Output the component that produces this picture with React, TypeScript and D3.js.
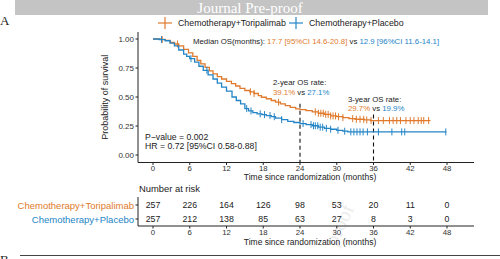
import * as d3 from "d3";

// Kaplan-Meier step knots: [month, survival probability]
const toripalimabSteps: [number, number][] = [
  [0, 1.0], [1.2, 0.996], [2, 0.988], [2.8, 0.97], [3.5, 0.957], [4.2, 0.94],
  [5, 0.91], [5.8, 0.88], [6.5, 0.85], [7.2, 0.815], [7.8, 0.785], [8.5, 0.755],
  [9.2, 0.725], [9.8, 0.7], [10.5, 0.675], [11.2, 0.655], [12, 0.635], [12.8, 0.615],
  [13.5, 0.595], [14.2, 0.575], [15, 0.556], [15.8, 0.545], [16.5, 0.53], [17.2, 0.512],
  [17.7, 0.498], [18.5, 0.485], [19.3, 0.47], [20, 0.455], [20.8, 0.44], [21.6, 0.425],
  [22.4, 0.41], [23.3, 0.398], [24, 0.391], [25, 0.382], [26, 0.372], [27, 0.36],
  [28, 0.35], [29, 0.337], [30, 0.33], [31, 0.322], [32, 0.314], [33, 0.308],
  [34.5, 0.302], [35.5, 0.297], [45.3, 0.297],
];

const placeboSteps: [number, number][] = [
  [0, 1.0], [1, 0.995], [2, 0.985], [2.8, 0.965], [3.5, 0.94], [4.2, 0.905],
  [5, 0.87], [5.5, 0.85], [6, 0.83], [6.8, 0.8], [7.5, 0.765], [8.2, 0.73],
  [9, 0.69], [9.8, 0.655], [10.5, 0.62], [11.2, 0.585], [12, 0.55], [12.9, 0.5],
  [13.6, 0.47], [14.3, 0.44], [15, 0.4], [15.6, 0.38], [16.3, 0.365], [17, 0.355],
  [17.8, 0.348], [18.5, 0.34], [19.3, 0.33], [20, 0.318], [21, 0.305], [22, 0.29],
  [23, 0.28], [24, 0.271], [25, 0.262], [26, 0.252], [27, 0.24], [28, 0.23],
  [29, 0.222], [30, 0.213], [31, 0.205], [31.8, 0.199], [47.9, 0.199],
];

// Censoring times (months)
const toripalimabCensored = [
  1.5, 4.0, 15.9, 16.5, 20.5, 26.5, 27.0, 27.4, 27.8, 28.2, 28.6, 29.0, 29.4, 29.8,
  30.3, 31.0, 32.6, 33.2, 33.8, 34.4, 34.9, 35.6, 36.8, 37.6, 38.6, 39.2, 39.8,
  40.4, 41.3, 42.0, 42.6, 43.3, 43.8, 44.2, 45.0,
];
const placeboCensored = [
  1.4, 6.2, 8.8, 15.3, 16.0, 17.5, 18.2, 19.1, 19.8, 21.0, 24.5, 25.8, 26.2, 26.5,
  26.9, 27.3, 27.7, 28.3, 29.0, 30.2, 31.3, 32.3, 32.8, 33.3, 33.8, 34.3, 35.0,
  36.8, 39.0, 40.6, 41.1, 47.8,
];

const timeTicks = [0, 6, 12, 18, 24, 30, 36, 42, 48];
const survTicks = [0, 0.25, 0.5, 0.75, 1];
const armNames = ["Chemotherapy+Toripalimab", "Chemotherapy+Placebo"];
const riskToripalimab = [257, 226, 164, 126, 98, 53, 20, 11, 0];
const riskPlacebo = [257, 212, 138, 85, 63, 27, 8, 3, 0];
const landmarkMonths = [24, 36];
const landmarkToripalimab = [0.391, 0.297];
const landmarkPlacebo = [0.271, 0.199];

const ORANGE = "#E07A2C";
const BLUE = "#2485C6";
const FONT = "'Liberation Sans', Arial, sans-serif";
const SERIF = "'Liberation Serif', serif";

const survAt = (steps: [number, number][], t: number) => {
  let s = 1;
  for (const [time, v] of steps) if (time <= t) s = v;
  return s;
};

export default function App() {
  const x = d3.scaleLinear().domain([0, 48]).range([153, 447]);
  const y = d3.scaleLinear().domain([0, 1]).range([155, 39]);
  const axisLeft = 138;
  const axisRight = 474;
  const axisBottom = 162.5;
  const axisTop = 32;
  const titleX = 310;

  const line = d3
    .line<[number, number]>()
    .x((d) => x(d[0]))
    .y((d) => y(d[1]))
    .curve(d3.curveStepAfter);

  const arms = [
    { steps: toripalimabSteps, censored: toripalimabCensored, color: ORANGE, risk: riskToripalimab },
    { steps: placeboSteps, censored: placeboCensored, color: BLUE, risk: riskPlacebo },
  ];

  // risk table geometry
  const riskRowY = [205, 219];
  const riskAxisY = 226;
  const legendX = [165, 296];

  return (
    <svg
      width={500}
      height={259}
      style={{ position: "absolute", left: 0, top: 0, background: "#fff" }}
      fontFamily={FONT}
    >
      {/* header band */}
      <rect x={15} y={0} width={473} height={15} fill="#c4c4c4" />
      <text x={250} y={13} textAnchor="middle" fontFamily={SERIF} fontSize={15} fill="#fff">
        Journal Pre-proof
      </text>
      <text x={0} y={25} fontFamily={SERIF} fontSize={13} fill="#222">A</text>
      <text x={0} y={264} fontFamily={SERIF} fontSize={13} fill="#222">B</text>
      <line x1={20} x2={500} y1={255.5} y2={255.5} stroke="#444" strokeWidth={1} />

      {/* watermark */}
      <text
        x={340}
        y={231}
        transform="rotate(-65 340 225)"
        fontFamily={SERIF}
        fontSize={20}
        fill="#ececec"
        textAnchor="middle"
      >
        proof
      </text>

      {/* legend */}
      {armNames.map((name, i) => {
        const lx = legendX[i];
        const color = arms[i].color;
        return (
          <g key={name}>
            <line x1={lx - 7} x2={lx + 7} y1={23} y2={23} stroke={color} strokeWidth={1.2} />
            <line x1={lx} x2={lx} y1={17} y2={29} stroke={color} strokeWidth={1.2} />
            <text x={lx + 13} y={26} fontSize={8.8} fill="#222">{name}</text>
          </g>
        );
      })}

      {/* axes */}
      <line x1={axisLeft} x2={axisLeft} y1={axisTop} y2={axisBottom} stroke="#222" strokeWidth={1} />
      <line x1={axisLeft} x2={axisRight} y1={axisBottom} y2={axisBottom} stroke="#222" strokeWidth={1} />
      {survTicks.map((t) => (
        <g key={t}>
          <line x1={axisLeft - 2.5} x2={axisLeft} y1={y(t)} y2={y(t)} stroke="#222" />
          <text x={axisLeft - 4} y={y(t) + 3} textAnchor="end" fontSize={8} fill="#333">
            {t.toFixed(2)}
          </text>
        </g>
      ))}
      {timeTicks.map((t) => (
        <g key={t}>
          <line x1={x(t)} x2={x(t)} y1={axisBottom} y2={axisBottom + 2.5} stroke="#222" />
          <text x={x(t)} y={171} textAnchor="middle" fontSize={7.8} fill="#333">{t}</text>
        </g>
      ))}
      <text x={titleX} y={180} textAnchor="middle" fontSize={8.5} fill="#222">
        Time since randomization (months)
      </text>
      <text
        transform={`translate(108,${(axisTop + axisBottom) / 2}) rotate(-90)`}
        textAnchor="middle"
        fontSize={9}
        fill="#222"
      >
        Probability of survival
      </text>

      {/* landmark dashes */}
      {landmarkMonths.map((m, i) => (
        <line
          key={m}
          x1={x(m)}
          x2={x(m)}
          y1={y(landmarkToripalimab[i]) - 6}
          y2={axisBottom}
          stroke="#111"
          strokeWidth={1.1}
          strokeDasharray="4,3"
        />
      ))}

      {/* survival curves and censor ticks */}
      {arms.map((a, i) => (
        <g key={i}>
          <path d={line(a.steps) ?? ""} fill="none" stroke={a.color} strokeWidth={1.3} />
          {a.censored.map((c, j) => (
            <line
              key={j}
              x1={x(c)}
              x2={x(c)}
              y1={y(survAt(a.steps, c)) - 3.5}
              y2={y(survAt(a.steps, c)) + 3.5}
              stroke={a.color}
              strokeWidth={1}
            />
          ))}
        </g>
      ))}

      {/* annotations */}
      <text x={193} y={44} fontSize={7.8}>
        <tspan fill="#222">Median OS(months): </tspan>
        <tspan fill={ORANGE}>17.7 [95%CI 14.6-20.8]</tspan>
        <tspan fill="#222"> vs </tspan>
        <tspan fill={BLUE}>12.9 [96%CI 11.6-14.1]</tspan>
      </text>
      <text x={273} y={85} fontSize={7.8} fill="#222">2-year OS rate:</text>
      <text x={273} y={94.5} fontSize={7.8}>
        <tspan fill={ORANGE}>{(landmarkToripalimab[0] * 100).toFixed(1)}%</tspan>
        <tspan fill="#222"> vs </tspan>
        <tspan fill={BLUE}>{(landmarkPlacebo[0] * 100).toFixed(1)}%</tspan>
      </text>
      <text x={348} y={101.5} fontSize={7.8} fill="#222">3-year OS rate:</text>
      <text x={348} y={110.5} fontSize={7.8}>
        <tspan fill={ORANGE}>{(landmarkToripalimab[1] * 100).toFixed(1)}%</tspan>
        <tspan fill="#222"> vs </tspan>
        <tspan fill={BLUE}>{(landmarkPlacebo[1] * 100).toFixed(1)}%</tspan>
      </text>
      <text x={145} y={140} fontSize={8.7} fill="#222">P−value = 0.002</text>
      <text x={145} y={149} fontSize={8.7} fill="#222">HR = 0.72 [95%CI 0.58-0.88]</text>

      {/* number at risk table */}
      <text x={axisLeft + 1} y={192} fontSize={9.4} fill="#222">Number at risk</text>
      <line x1={axisLeft} x2={axisLeft} y1={197} y2={riskAxisY} stroke="#222" />
      <line x1={axisLeft} x2={axisRight} y1={riskAxisY} y2={riskAxisY} stroke="#222" />
      {arms.map((a, i) => (
        <g key={i}>
          <line x1={axisLeft - 2.5} x2={axisLeft} y1={riskRowY[i]} y2={riskRowY[i]} stroke="#222" />
          <text x={axisLeft - 4} y={riskRowY[i] + 3.5} textAnchor="end" fontSize={9.5} fill={a.color}>
            {armNames[i]}
          </text>
          {a.risk.map((n, j) => (
            <text key={j} x={x(timeTicks[j])} y={riskRowY[i] + 3.3} textAnchor="middle" fontSize={8.8} fill="#222">
              {n}
            </text>
          ))}
        </g>
      ))}
      {timeTicks.map((t) => (
        <g key={t}>
          <line x1={x(t)} x2={x(t)} y1={riskAxisY} y2={riskAxisY + 2.5} stroke="#222" />
          <text x={x(t)} y={235} textAnchor="middle" fontSize={7.8} fill="#333">{t}</text>
        </g>
      ))}
      <text x={titleX} y={245} textAnchor="middle" fontSize={8.5} fill="#222">
        Time since randomization (months)
      </text>
    </svg>
  );
}
